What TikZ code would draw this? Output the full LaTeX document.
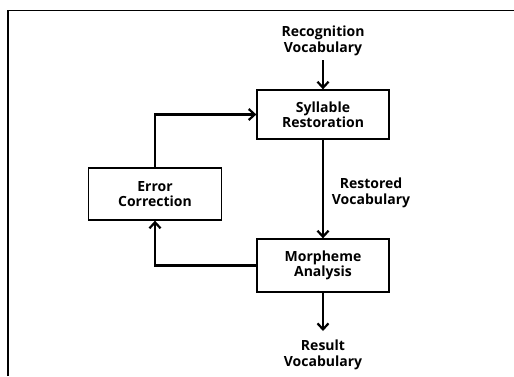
\documentclass[tikz,border=0pt]{standalone}
\usepackage{fontspec}
\setmainfont{Open Sans}
\usetikzlibrary{arrows.meta}
\begin{document}
\begin{tikzpicture}[x=1pt,y=-1pt,
  box/.style={draw, line width=1.3pt, align=center, inner sep=0pt},
  lbl/.style={align=center, font=\bfseries\fontsize{14}{15.5}\selectfont, inner sep=0pt},
  flow/.style={line width=2.1pt, -{Straight Barb[length=6pt,width=11pt,line width=2.2pt]}}]
\useasboundingbox (0,0) rectangle (514,376);
\draw[line width=1.2pt] (8,376) -- (8,10.5) -- (514,10.5);
\node[box, lbl, minimum width=132pt, minimum height=49pt] (syl) at (323,114.5) {Syllable\\Restoration};
\node[box, lbl, minimum width=133pt, minimum height=52pt] (err) at (155,194) {Error\\Correction};
\node[box, lbl, minimum width=132pt, minimum height=53pt] (mor) at (323,265.5) {Morpheme\\Analysis};
\node[lbl] (rec) at (323,41) {Recognition\\Vocabulary};
\node[lbl] (res) at (371,193) {Restored\\Vocabulary};
\node[lbl] (out) at (323,355) {Result\\Vocabulary};
\coordinate (recend) at (323,60);
\coordinate (outend) at (323,331);
\draw[flow] (recend) -- (syl.north);
\draw[flow] (syl.south) -- (mor.north);
\draw[flow] (mor.south) -- (outend);
\draw[flow] (mor.west) -| (err.south);
\draw[flow] (err.north) |- (syl.west);
\end{tikzpicture}
\end{document}
